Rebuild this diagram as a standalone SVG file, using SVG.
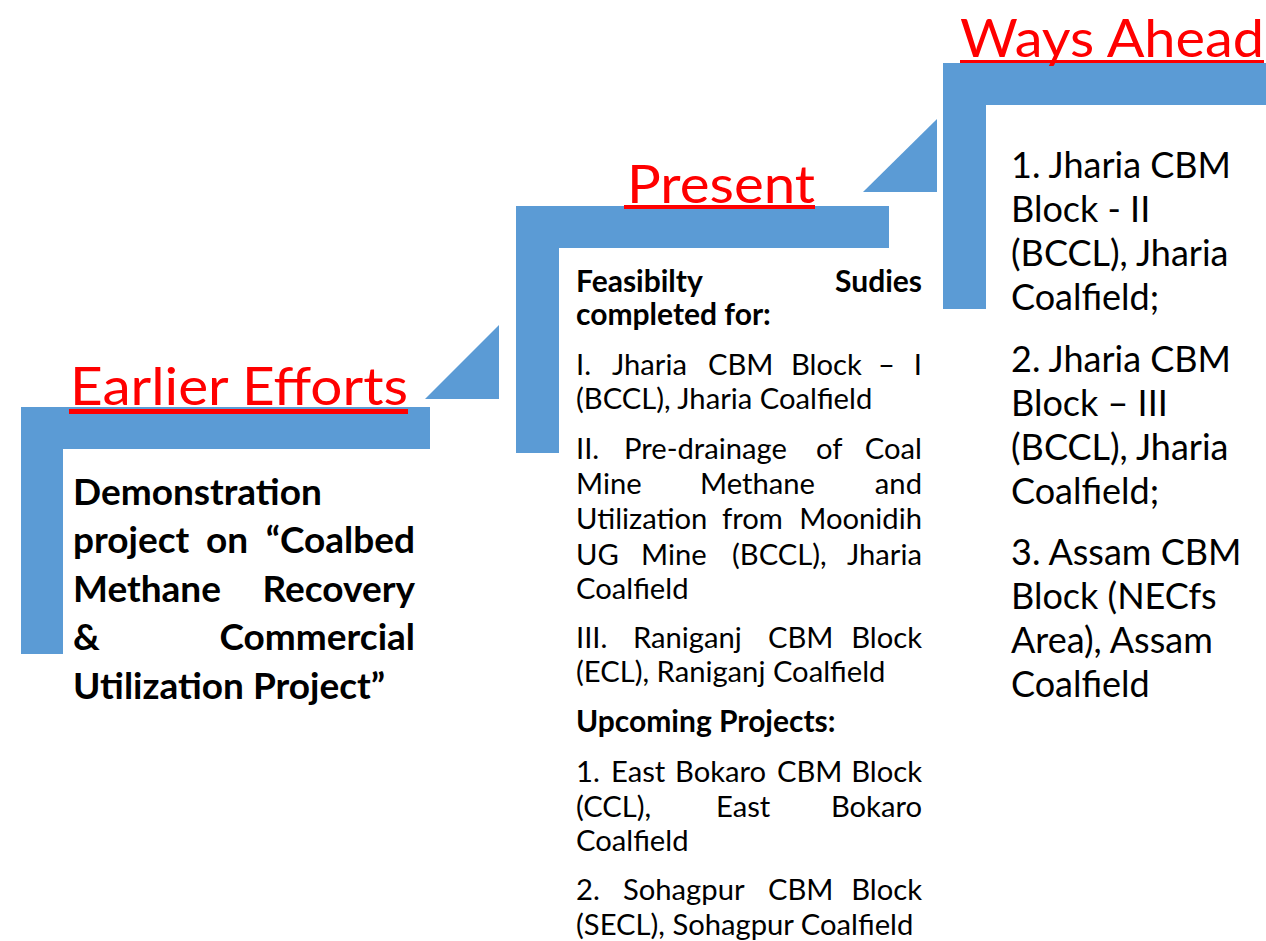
<svg xmlns="http://www.w3.org/2000/svg" width="1266" height="941" viewBox="0 0 1266 941">
<style>
.bar{fill:#5B9BD5}
.title{font-family:Lato,"Liberation Sans",sans-serif;font-size:53px;fill:#FF0000}
.ul{fill:#FF0000}
.lb{font-family:Lato,"Liberation Sans",sans-serif;font-size:37px;font-weight:bold;fill:#000}
.m{font-family:Lato,"Liberation Sans",sans-serif;font-size:29.2px;fill:#000}
.mb{font-family:Lato,"Liberation Sans",sans-serif;font-size:30px;font-weight:bold;fill:#000}
.r{font-family:Lato,"Liberation Sans",sans-serif;font-size:36px;fill:#000}
.e{text-anchor:end}
</style>
<rect width="1266" height="941" fill="#FFFFFF"/>
<g id="connectors">
<polygon class="bar" points="425,399 499,325 499,399"/>
<polygon class="bar" points="863,192 937,119 937,192"/>
</g>
<g id="earlier">
<polygon class="bar" points="21,407 430,407 430,449 63,449 63,654 21,654"/>
<text class="title" x="70" y="405" textLength="338" lengthAdjust="spacingAndGlyphs">Earlier Efforts</text>
<rect class="ul" x="69" y="409" width="339" height="5"/>
<text class="lb" x="73" y="505">Demonstration</text>
<text class="lb" x="73" y="553">project</text>
<text class="lb" x="206" y="553">on</text>
<text class="lb e" x="415" y="553">“Coalbed</text>
<text class="lb" x="73" y="602">Methane</text>
<text class="lb e" x="415" y="602">Recovery</text>
<text class="lb" x="73" y="650">&amp;</text>
<text class="lb e" x="415" y="650">Commercial</text>
<text class="lb" x="73" y="699">Utilization Project”</text>
</g>
<g id="present">
<polygon class="bar" points="516,206 889,206 889,248 559,248 559,453 516,453"/>
<text class="title" x="627" y="203" textLength="188" lengthAdjust="spacingAndGlyphs">Present</text>
<rect class="ul" x="624" y="205" width="191" height="4"/>
<text class="mb" x="576" y="292">Feasibilty</text>
<text class="mb e" x="922" y="292">Sudies</text>
<text class="mb" x="576" y="325">completed for:</text>
<text class="m" x="576" y="375">I.</text>
<text class="m" x="612" y="375">Jharia</text>
<text class="m" x="708" y="375">CBM</text>
<text class="m" x="791" y="375">Block</text>
<text class="m" x="878" y="375">–</text>
<text class="m e" x="922" y="375">I</text>
<text class="m" x="576" y="409">(BCCL), Jharia Coalfield</text>
<text class="m" x="576" y="459">II.</text>
<text class="m" x="624" y="459">Pre-drainage</text>
<text class="m" x="816" y="459">of</text>
<text class="m e" x="922" y="459">Coal</text>
<text class="m" x="576" y="494">Mine</text>
<text class="m" x="700" y="494">Methane</text>
<text class="m e" x="922" y="494">and</text>
<text class="m" x="576" y="529">Utilization</text>
<text class="m" x="722" y="529">from</text>
<text class="m e" x="922" y="529">Moonidih</text>
<text class="m" x="576" y="565">UG</text>
<text class="m" x="641" y="565">Mine</text>
<text class="m" x="732" y="565">(BCCL),</text>
<text class="m e" x="922" y="565">Jharia</text>
<text class="m" x="576" y="599">Coalfield</text>
<text class="m" x="576" y="648">III.</text>
<text class="m" x="633" y="648">Raniganj</text>
<text class="m" x="768" y="648">CBM</text>
<text class="m e" x="922" y="648">Block</text>
<text class="m" x="576" y="682">(ECL), Raniganj Coalfield</text>
<text class="mb" x="576" y="732">Upcoming Projects:</text>
<text class="m" x="576" y="782">1.</text>
<text class="m" x="611" y="782">East</text>
<text class="m" x="675" y="782">Bokaro</text>
<text class="m" x="777" y="782">CBM</text>
<text class="m e" x="922" y="782">Block</text>
<text class="m" x="576" y="817">(CCL),</text>
<text class="m" x="716" y="817">East</text>
<text class="m e" x="922" y="817">Bokaro</text>
<text class="m" x="576" y="851">Coalfield</text>
<text class="m" x="576" y="900">2.</text>
<text class="m" x="623" y="900">Sohagpur</text>
<text class="m" x="768" y="900">CBM</text>
<text class="m e" x="922" y="900">Block</text>
<text class="m" x="576" y="935">(SECL), Sohagpur Coalfield</text>
</g>
<g id="ways-ahead">
<polygon class="bar" points="943,63 1266,63 1266,105 986,105 986,309 943,309"/>
<text class="title" x="960" y="57" textLength="304" lengthAdjust="spacingAndGlyphs">Ways Ahead</text>
<rect class="ul" x="960" y="60" width="304" height="3"/>
<text class="r" x="1011" y="178">1. Jharia CBM</text>
<text class="r" x="1011" y="222">Block - II</text>
<text class="r" x="1011" y="266">(BCCL), Jharia</text>
<text class="r" x="1011" y="310">Coalfield;</text>
<text class="r" x="1011" y="372">2. Jharia CBM</text>
<text class="r" x="1011" y="416">Block – III</text>
<text class="r" x="1011" y="460">(BCCL), Jharia</text>
<text class="r" x="1011" y="504">Coalfield;</text>
<text class="r" x="1011" y="565">3. Assam CBM</text>
<text class="r" x="1011" y="609">Block (NECfs</text>
<text class="r" x="1011" y="653">Area), Assam</text>
<text class="r" x="1011" y="697">Coalfield</text>
</g>
</svg>
